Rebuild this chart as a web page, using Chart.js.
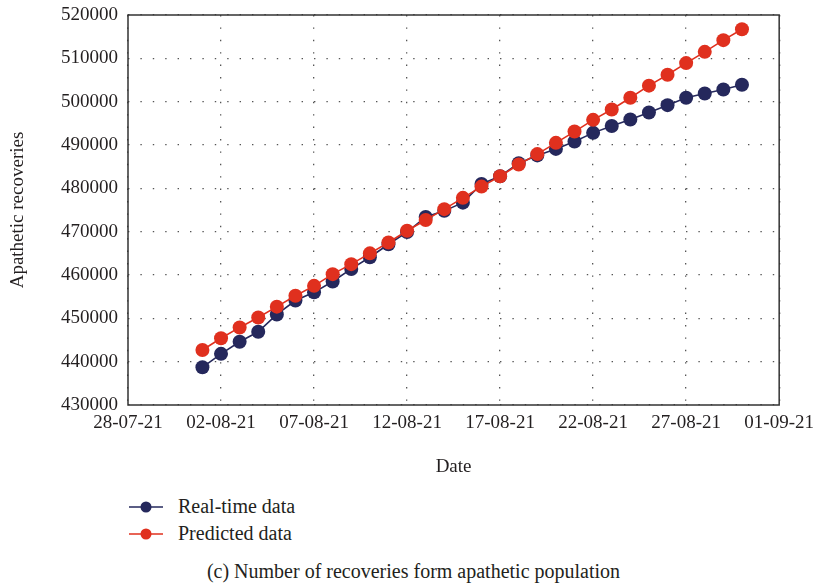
<!DOCTYPE html>
<html>
<head>
<meta charset="utf-8">
<title>Recoveries from apathetic population</title>
<script src="https://cdn.jsdelivr.net/npm/chart.js@4.4.0/dist/chart.umd.min.js"></script>
<style>
    body {
        margin: 0;
        background: #fff;
        font-family: "Liberation Serif", "DejaVu Serif", serif;
        color: #231f20;
    }
    #wrap {
        position: relative;
        width: 821px;
        height: 588px;
    }
    #chartBox {
        position: absolute;
        left: 0;
        top: 0;
        width: 821px;
        height: 480px;
    }
    #legend {
        position: absolute;
        left: 129px;
        top: 493px;
    }
    .legend-item {
        display: flex;
        align-items: center;
        height: 27px;
        font-size: 20px;
    }
    .legend-item svg {
        margin-right: 15px;
    }
    #caption {
        position: absolute;
        left: 3px;
        top: 560px;
        width: 821px;
        text-align: center;
        font-size: 20px;
    }
</style>
</head>
<body>
<div id="wrap">
    <div id="chartBox"><canvas id="recoveryChart" width="821" height="480"></canvas></div>
    <div id="legend"></div>
    <div id="caption">(c) Number of recoveries form apathetic population</div>
</div>
<script>
// Daily recoveries, 1 Aug to 30 Aug 2021
const dates = [
    '01-08-21', '02-08-21', '03-08-21', '04-08-21', '05-08-21', '06-08-21',
    '07-08-21', '08-08-21', '09-08-21', '10-08-21', '11-08-21', '12-08-21',
    '13-08-21', '14-08-21', '15-08-21', '16-08-21', '17-08-21', '18-08-21',
    '19-08-21', '20-08-21', '21-08-21', '22-08-21', '23-08-21', '24-08-21',
    '25-08-21', '26-08-21', '27-08-21', '28-08-21', '29-08-21', '30-08-21'
];
const realTime = [
    438700, 441800, 444600, 446900, 450900, 454100,
    456000, 458500, 461400, 464100, 467100, 469900,
    473400, 474800, 476700, 481000, 482800, 485800,
    487600, 489100, 490800, 492800, 494400, 495900,
    497500, 499200, 500900, 501900, 502800, 503900
];
const predicted = [
    442700, 445400, 447900, 450200, 452700, 455200,
    457500, 460200, 462500, 465000, 467500, 470200,
    472700, 475200, 477800, 480400, 482800, 485500,
    487900, 490500, 493100, 495800, 498200, 500900,
    503700, 506200, 508900, 511500, 514200, 516700
];

// x axis runs from 28-07-21 to 01-09-21, one label every 5 days
const xStart = '28-07-21';
const xEnd = '01-09-21';
const xStepDays = 5;
const yMin = 430000;
const yMax = 520000;
const yStep = 10000;

const DAY = 86400000;
const SERIF = '"Liberation Serif", "DejaVu Serif", serif';
const INK = '#231f20';
const NAVY = '#25285c';
const RED = '#e0301e';

function parseDate(s) {
    const [d, m, y] = s.split('-').map(Number);
    return Date.UTC(2000 + y, m - 1, d);
}

function formatDate(ms) {
    const dt = new Date(ms);
    const pad = n => String(n).padStart(2, '0');
    return pad(dt.getUTCDate()) + '-' + pad(dt.getUTCMonth() + 1) + '-' + pad(dt.getUTCFullYear() % 100);
}

const base = parseDate(xStart);
const dayOffset = s => Math.round((parseDate(s) - base) / DAY);
const toPoints = values => values.map((v, i) => ({ x: dayOffset(dates[i]), y: v }));

// Solid frame around the plot area
const frameBox = {
    id: 'frameBox',
    beforeDatasetsDraw(chart) {
        const { ctx, chartArea: a } = chart;
        ctx.save();
        ctx.strokeStyle = '#333';
        ctx.lineWidth = 1.5;
        ctx.strokeRect(a.left, a.top, a.right - a.left, a.bottom - a.top);
        ctx.restore();
    }
};

const gridStyle = {
    color: '#555',
    lineWidth: 1.3,
    drawTicks: false
};

const chart = new Chart(document.getElementById('recoveryChart'), {
    type: 'line',
    data: {
        datasets: [{
            label: 'Real-time data',
            data: toPoints(realTime),
            borderColor: NAVY,
            backgroundColor: NAVY,
            pointBackgroundColor: NAVY,
            order: 2
        }, {
            label: 'Predicted data',
            data: toPoints(predicted),
            borderColor: RED,
            backgroundColor: RED,
            pointBackgroundColor: RED,
            order: 1
        }]
    },
    options: {
        responsive: false,
        animation: false,
        layout: {
            padding: { top: 15, right: 39, left: 0, bottom: 0 }
        },
        elements: {
            line: { borderWidth: 1.6, tension: 0 },
            point: { radius: 7, hoverRadius: 7, borderWidth: 0 }
        },
        plugins: {
            legend: { display: false },
            tooltip: { enabled: false }
        },
        scales: {
            x: {
                type: 'linear',
                min: 0,
                max: dayOffset(xEnd),
                ticks: {
                    stepSize: xStepDays,
                    autoSkip: false,
                    maxRotation: 0,
                    padding: 7,
                    color: INK,
                    font: { family: SERIF, size: 19 },
                    callback: v => formatDate(base + v * DAY)
                },
                grid: gridStyle,
                border: { display: false, dash: [1.4, 11] },
                title: {
                    display: true,
                    text: 'Date',
                    color: INK,
                    font: { family: SERIF, size: 19 },
                    padding: { top: 0, bottom: 2 }
                },
                afterFit: s => { s.height = 75; }
            },
            y: {
                min: yMin,
                max: yMax,
                ticks: {
                    stepSize: yStep,
                    padding: 10,
                    color: INK,
                    font: { family: SERIF, size: 19 },
                    callback: v => String(v)
                },
                grid: gridStyle,
                border: { display: false, dash: [1.4, 11] },
                title: {
                    display: true,
                    text: 'Apathetic recoveries',
                    color: INK,
                    font: { family: SERIF, size: 19 },
                    padding: { top: 7, bottom: 0 }
                },
                afterFit: s => {
                    s.width = 128;
                    // the layout padding already leaves room for the end labels
                    s.paddingTop = 0;
                    s.paddingBottom = 0;
                }
            }
        }
    },
    plugins: [frameBox]
});

// Stacked legend below the chart: line with a dot, then the label
const legendEl = document.getElementById('legend');
chart.data.datasets.forEach(ds => {
    const c = ds.borderColor;
    const item = document.createElement('div');
    item.className = 'legend-item';
    item.innerHTML =
        '<svg width="34" height="16"><line x1="0" y1="8" x2="34" y2="8" stroke="' + c +
        '" stroke-width="1.6"/><circle cx="17" cy="8" r="5.5" fill="' + c + '"/></svg>' +
        '<span>' + ds.label + '</span>';
    legendEl.appendChild(item);
});
</script>
</body>
</html>
